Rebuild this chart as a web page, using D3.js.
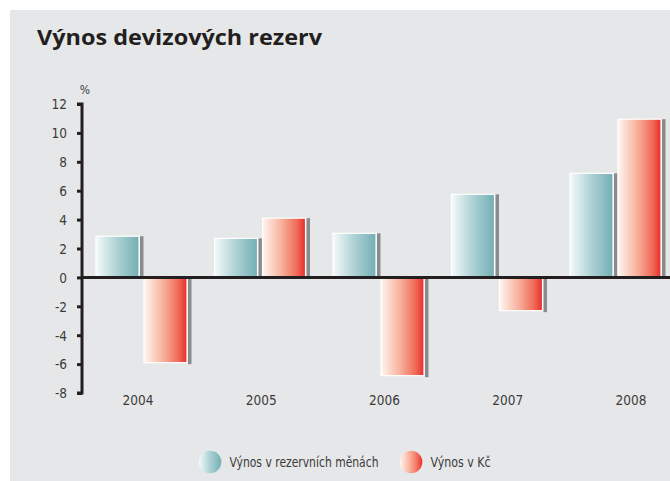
<!DOCTYPE html>
<html lang="cs">
<head>
<meta charset="UTF-8">
<title>Výnos devizových rezerv</title>
<style>
  body { margin: 0; background: #fff; }
  .f-title { font-family: "Open Sans", "DejaVu Sans", sans-serif; font-weight: bold; font-size: 22px; fill: #231f20; }
  .f-txt { font-family: "DejaVu Sans", sans-serif; font-stretch: condensed; font-size: 13.5px; fill: #3b3b3b; }
</style>
<script src="https://cdn.jsdelivr.net/npm/d3@7"></script>
</head>
<body>
<script>
  // data
  var years = ["2004", "2005", "2006", "2007", "2008"];
  var series = ["Výnos v rezervních měnách", "Výnos v Kč"];
  var reserveCcy = [2.85, 2.7, 3.05, 5.75, 7.2];
  var czk = [-5.9, 4.1, -6.8, -2.3, 10.95];
  var yTicks = [12, 10, 8, 6, 4, 2, 0, -2, -4, -6, -8];

  const w = 670, h = 481;

  const svg = d3.select("body").append("svg")
    .attr("width", w).attr("height", h);

  // gradients
  var defs = svg.append("defs");
  var grads = [
    { id: "gTeal", stops: [[0, "#f5fafa"], [0.45, "#b3d5d8"], [1, "#72aeb4"]] },
    { id: "gRed", stops: [[0, "#fff6f1"], [0.45, "#f8b09b"], [0.8, "#f06b57"], [1, "#eb2a2c"]] }
  ];
  grads.forEach(function (g) {
    var lg = defs.append("linearGradient").attr("id", g.id)
      .attr("x1", "0%").attr("x2", "100%").attr("y1", "0%").attr("y2", "0%");
    g.stops.forEach(function (s) {
      lg.append("stop").attr("offset", s[0]).attr("stop-color", s[1]);
    });
  });
  var fills = ["url(#gTeal)", "url(#gRed)"];

  // panel
  svg.append("rect").attr("x", 10).attr("y", 10)
    .attr("width", w - 10).attr("height", h - 10).attr("fill", "#e6e7e8");

  svg.append("text").attr("class", "f-title")
    .attr("x", 37).attr("y", 44.5)
    .attr("textLength", 285).attr("lengthAdjust", "spacingAndGlyphs")
    .text("Výnos devizových rezerv");

  var yScale = d3.scaleLinear().domain([-8, 12]).range([393, 104]);

  var x0 = d3.scaleBand().domain(years).range([82, 82 + 5 * 118.5]);
  var x1 = d3.scaleBand().domain(series).range([14, 110]);
  var xLab = d3.scalePoint().domain(years).range([138, 631]);
  var barW = 43;

  var rows = years.map(function (y, i) {
    return { year: y, vals: [reserveCcy[i], czk[i]] };
  });

  var groups = svg.append("g").selectAll("g")
    .data(rows).enter().append("g")
    .attr("transform", function (d) { return "translate(" + x0(d.year) + ",0)"; });

  var bars = groups.selectAll("g")
    .data(function (d) { return d.vals.map(function (v, j) { return { s: series[j], v: v, j: j }; }); })
    .enter().append("g");

  // shadow
  bars.append("rect")
    .attr("x", function (d) { return x1(d.s) + barW + 1; })
    .attr("y", function (d) { return d.v >= 0 ? yScale(d.v) : yScale(0); })
    .attr("width", 3.5)
    .attr("height", function (d) { return Math.abs(yScale(d.v) - yScale(0)) + (d.v < 0 ? 1.5 : 0); })
    .attr("fill", "#8a8b8d");

  bars.append("rect")
    .attr("x", function (d) { return x1(d.s); })
    .attr("y", function (d) { return Math.min(yScale(d.v), yScale(0)); })
    .attr("width", barW)
    .attr("height", function (d) { return Math.abs(yScale(d.v) - yScale(0)); })
    .attr("fill", function (d) { return fills[d.j]; })
    .attr("stroke", "#ffffff").attr("stroke-width", 1.2);

  // zero line
  svg.append("line")
    .attr("x1", 82).attr("x2", w).attr("y1", yScale(0)).attr("y2", yScale(0))
    .attr("stroke", "#231f20").attr("stroke-width", 3);

  // y axis
  var yAxis = d3.axisLeft(yScale).tickValues(yTicks).tickSize(5).tickPadding(10)
    .tickFormat(d3.format("d"));
  var ga = svg.append("g").attr("transform", "translate(82,0)").call(yAxis);
  ga.select(".domain").attr("stroke", "#231f20").attr("stroke-width", 3)
    .attr("d", "M-5," + yScale(12) + "H0V" + yScale(-8) + "H-5");
  ga.selectAll(".tick line").attr("stroke", "#231f20").attr("stroke-width", 3);
  ga.selectAll(".tick text").attr("class", "f-txt").attr("fill", null)
    .attr("font-size", null).attr("font-family", null)
    .attr("dy", "0.36em")
    .text(function (d) { return d < 0 ? "-" + Math.abs(d) : d; });

  svg.append("text").attr("class", "f-txt").attr("x", 85).attr("y", 94)
    .attr("text-anchor", "middle").style("font-size", "12px").text("%");

  // x labels
  svg.append("g").selectAll("text")
    .data(years).enter().append("text")
    .attr("class", "f-txt").attr("text-anchor", "middle")
    .attr("x", function (d) { return xLab(d); }).attr("y", 405)
    .text(function (d) { return d; });

  // legend
  var legX = [210, 411];
  var legLen = [149, 60];
  var leg = svg.append("g").selectAll("g")
    .data(series).enter().append("g")
    .attr("transform", function (d, i) { return "translate(" + legX[i] + ",462)"; });
  leg.append("circle").attr("r", 11.3).attr("fill", function (d, i) { return fills[i]; });
  leg.append("text").attr("class", "f-txt").attr("x", 19.5).attr("y", 5)
    .attr("textLength", function (d, i) { return legLen[i]; })
    .attr("lengthAdjust", "spacingAndGlyphs")
    .text(function (d) { return d; });
</script>
</body>
</html>
